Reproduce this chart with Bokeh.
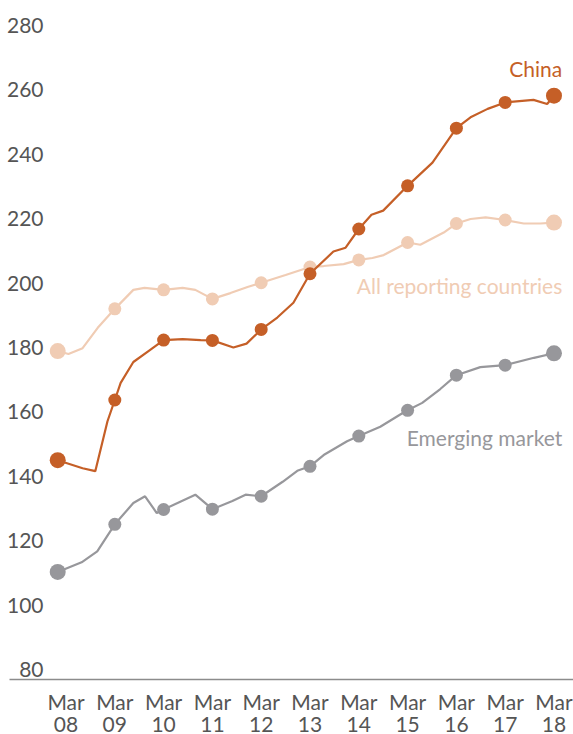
from bokeh.plotting import figure
from bokeh.models import Range1d, FixedTicker, Label, LinearAxis
from bokeh.embed import file_html
from bokeh.resources import INLINE

# x: years since March 2008 (0 = Mar 08 ... 10 = Mar 18)
china_x = [-0.17, 0.34, 0.6, 0.85, 1.0, 1.12, 1.38, 1.69, 2.0, 2.39, 2.76, 3.0, 3.43, 3.7, 4.0, 4.33, 4.66, 5.0,
           5.48, 5.73, 6.0, 6.26, 6.5, 7.0, 7.51, 8.0, 8.29, 8.64, 9.0, 9.58, 9.86, 10.0]
china_y = [145.0, 142.5, 141.6, 157.1, 163.7, 169.0, 175.5, 178.9, 182.3, 182.6, 182.3, 182.2, 180.0, 181.2, 185.6,
           189.3, 193.9, 202.9, 209.8, 211.0, 216.8, 221.2, 222.5, 230.2, 237.4, 248.1, 251.5, 254.1, 256.1, 256.9,
           255.6, 258.2]

all_x = [-0.17, 0.05, 0.34, 0.65, 1.0, 1.38, 1.61, 2.0, 2.39, 2.65, 3.0, 3.37, 3.72, 4.0, 4.5, 5.0, 5.28, 5.69,
         6.0, 6.28, 6.51, 7.0, 7.26, 7.74, 8.0, 8.29, 8.6, 9.0, 9.38, 9.72, 10.0]
all_y = [178.9, 178.0, 179.8, 186.1, 192.0, 197.9, 198.5, 197.9, 198.5, 197.9, 195.1, 196.9, 198.8, 200.1, 202.5,
         205.0, 205.3, 205.9, 207.2, 207.8, 208.7, 212.6, 211.9, 215.7, 218.5, 219.9, 220.4, 219.6, 218.5, 218.5,
         218.8]

em_x = [-0.17, 0.32, 0.64, 1.0, 1.38, 1.62, 1.86, 2.0, 2.65, 3.0, 3.41, 3.68, 4.0, 4.44, 4.74, 5.0, 5.28, 5.76,
        6.0, 6.44, 6.85, 7.0, 7.3, 7.67, 8.0, 8.49, 9.0, 9.59, 10.0]
em_y = [110.3, 113.3, 116.7, 125.1, 131.7, 133.8, 128.6, 129.7, 134.3, 129.8, 132.3, 134.3, 133.8, 138.3, 141.7,
        143.1, 146.6, 150.9, 152.5, 155.4, 159.2, 160.5, 162.8, 167.1, 171.4, 173.9, 174.5, 176.8, 178.2]

# annual markers (March of each year)
marker_x = [-0.17, 1, 2, 3, 4, 5, 6, 7, 8, 9, 10]
china_m = [145.0, 163.7, 182.3, 182.2, 185.6, 202.9, 216.8, 230.2, 248.1, 256.1, 258.2]
all_m = [178.9, 192.0, 197.9, 195.1, 200.1, 205.0, 207.2, 212.6, 218.5, 219.6, 218.8]
em_m = [110.3, 125.1, 129.7, 129.8, 133.8, 143.1, 152.5, 160.5, 171.4, 174.5, 178.2]
marker_size = [16, 13, 13, 13, 13, 13, 13, 13, 13, 13, 16]

x_ticks = list(range(0, 11))
x_month = ["Mar"] * 11
x_year = ["08", "09", "10", "11", "12", "13", "14", "15", "16", "17", "18"]
y_ticks = [80, 100, 120, 140, 160, 180, 200, 220, 240, 260, 280]

CHINA = "#c55f27"
ALL = "#f0ccb4"
EM = "#97979b"
FONT = "Lato"
TXT = "#555555"
FS = "21px"

p = figure(width=573, height=734, output_backend="svg", toolbar_location=None,
           x_range=Range1d(-1.158, 10.40), y_range=Range1d(76.9, 283.1),
           min_border_left=9, min_border_right=0, min_border_top=15, min_border_bottom=54)
p.outline_line_color = None
p.grid.visible = False
p.background_fill_color = "white"

p.yaxis.ticker = FixedTicker(ticks=y_ticks)
p.yaxis.axis_line_color = None
p.yaxis.major_tick_line_color = None
p.yaxis.minor_tick_line_color = None
p.yaxis.major_tick_in = 0
p.yaxis.major_tick_out = 0
p.yaxis.major_label_text_font = FONT
p.yaxis.major_label_text_font_size = FS
p.yaxis.major_label_text_color = TXT
p.yaxis.major_label_standoff = -34


def style_x(ax, labels, standoff):
    ax.ticker = FixedTicker(ticks=x_ticks)
    ax.major_label_overrides = {t: l for t, l in zip(x_ticks, labels)}
    ax.major_tick_line_color = None
    ax.minor_tick_line_color = None
    ax.major_tick_in = 0
    ax.major_tick_out = 0
    ax.major_label_text_font = FONT
    ax.major_label_text_font_size = FS
    ax.major_label_text_color = TXT
    ax.major_label_standoff = standoff


xa = p.xaxis[0]
style_x(xa, x_month, 9)
xa.axis_line_color = "#8c8c8c"
xa.axis_line_width = 1.5

xb = LinearAxis()
style_x(xb, x_year, 0)
xb.axis_line_color = None
p.add_layout(xb, "below")

for xs, ys, ms, c in [(all_x, all_y, all_m, ALL), (em_x, em_y, em_m, EM), (china_x, china_y, china_m, CHINA)]:
    p.line(xs, ys, line_color=c, line_width=2.2)
    p.scatter(marker_x, ms, size=marker_size, fill_color=c, line_color=c, line_width=0)

for txt, yy, c in [("China", 266.6, CHINA), ("All reporting countries", 199.1, ALL), ("Emerging market", 151.9, EM)]:
    p.add_layout(Label(x=10.17, y=yy, text=txt, text_align="right", text_baseline="middle",
                       text_color=c, text_font=FONT, text_font_size=FS))

open("out.html", "w").write(file_html(p, INLINE))
